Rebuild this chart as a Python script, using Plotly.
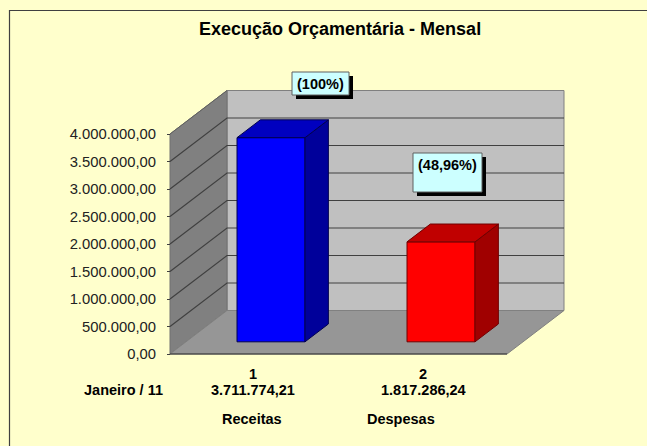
import plotly.graph_objects as go

categories = ["1", "2"]
series_names = ["Receitas", "Despesas"]
values = [3711774.21, 1817286.24]
percent_labels = ["(100%)", "(48,96%)"]
period_label = "Janeiro / 11"
title_text = "Execução Orçamentária - Mensal"
y_ticks = [0, 500000, 1000000, 1500000, 2000000, 2500000, 3000000, 3500000, 4000000]
face_colors = ["#0000FF", "#FF0000"]
top_colors = ["#0000C0", "#C00000"]
side_colors = ["#00009A", "#A00000"]
edge_colors = ["#000050", "#700000"]

W, H = 647, 446
X0, Y0 = 170, 354          # pixel of the axes origin
PX_X = 170                 # px per category
PX_Y = 55 / 1e6            # px per value unit
XEND = 337 / PX_X          # right end of the floor
DEPTH_X = 57 / PX_X        # oblique shift of the floor depth
DEPTH_Y = 43.5 / PX_Y
BAR_WIDTH = 68 / PX_X
BAR_SHIFT = 18 / PX_X
BAR_D0, BAR_D1 = 0.28, 0.69
YMAX = y_ticks[-1]
FONT = "Liberation Sans, Arial, sans-serif"
LABEL_SIZE = 14.5
TICK_SIZE = 14.8
TITLE_SIZE = 18


def px(x):
    return x / W


def py(y):
    return 1 - y / H


def pt(x, y, d=0.0):
    return x + d * DEPTH_X, y + d * DEPTH_Y


def poly(points):
    return "M" + " L".join(f"{a},{b}" for a, b in points) + " Z"


def ngon(*points, fill, line, width=1):
    return dict(type="path", xref="x", yref="y", path=poly(points), fillcolor=fill,
                line=dict(color=line, width=width), layer="below")


shapes = [
    # walls and floor
    ngon(pt(0, 0, 1), pt(XEND, 0, 1), pt(XEND, YMAX, 1), pt(0, YMAX, 1), fill="#C0C0C0", line="#808080"),
    ngon(pt(0, 0), pt(0, 0, 1), pt(0, YMAX, 1), pt(0, YMAX), fill="#808080", line="#707070"),
    ngon(pt(0, 0), pt(XEND, 0), pt(XEND, 0, 1), pt(0, 0, 1), fill="#969696", line="#808080"),
]
for tick in y_ticks[1:-1]:
    shapes.append(dict(type="path", xref="x", yref="y", layer="below",
                       path="M{},{} L{},{} L{},{}".format(*pt(0, tick), *pt(0, tick, 1), *pt(XEND, tick, 1)),
                       line=dict(color="#404040", width=1.2)))
shapes.append(dict(type="line", xref="x", yref="y", layer="below", x0=0, x1=XEND, y0=0, y1=0,
                   line=dict(color="#303030", width=1.2)))
shapes.append(dict(type="path", xref="x", yref="y", layer="below",
                   path="M{},{} L{},{}".format(*pt(0, YMAX), *pt(0, YMAX, 1)),
                   line=dict(color="#606060", width=1)))

# chart frame: dark top and left edges
shapes.append(dict(type="path", xref="paper", yref="paper", layer="below",
                   path=f"M{px(9.5)},{py(446)} L{px(9.5)},{py(10.5)} L{px(647)},{py(10.5)}",
                   line=dict(color="#404040", width=1.2)))

# call-out boxes with a hard shadow
boxes = [(292, 72, 349, 95), (413, 153, 482, 192)]
for x0, y0, x1, y1 in boxes:
    shapes.append(dict(type="rect", xref="paper", yref="paper", layer="above",
                       x0=px(x0 + 4), x1=px(x1 + 4), y0=py(y0 + 4), y1=py(y1 + 4),
                       fillcolor="#000000", line=dict(width=0)))
    shapes.append(dict(type="rect", xref="paper", yref="paper", layer="above",
                       x0=px(x0), x1=px(x1), y0=py(y0), y1=py(y1),
                       fillcolor="#CCFFFF", line=dict(color="#606060", width=1)))

fig = go.Figure()

bar_centres = [(253 - X0) / PX_X + i for i in range(len(values))]
bar_front_centres = [c + BAR_SHIFT for c in bar_centres]
bar_base = BAR_D0 * DEPTH_Y

for i, v in enumerate(values):
    xl = bar_front_centres[i] - BAR_WIDTH / 2
    xr = bar_front_centres[i] + BAR_WIDTH / 2
    dd = BAR_D1 - BAR_D0
    # side face
    side = [pt(xr, bar_base), pt(xr, bar_base, dd), pt(xr, bar_base + v, dd), pt(xr, bar_base + v)]
    # top face
    top = [pt(xl, bar_base + v), pt(xr, bar_base + v), pt(xr, bar_base + v, dd), pt(xl, bar_base + v, dd)]
    for pts, col in ((side, side_colors[i]), (top, top_colors[i])):
        fig.add_trace(go.Scatter(x=[p[0] for p in pts] + [pts[0][0]], y=[p[1] for p in pts] + [pts[0][1]],
                                 mode="lines", fill="toself", fillcolor=col,
                                 line=dict(color=edge_colors[i], width=1), hoverinfo="skip", showlegend=False))

fig.add_trace(go.Bar(x=bar_front_centres, y=values, base=[bar_base] * len(values), width=BAR_WIDTH,
                     marker=dict(color=face_colors, line=dict(color=edge_colors, width=1)),
                     name="Execução", showlegend=False))

annotations = [
    dict(text=f"<b>{title_text}</b>", xref="paper", yref="paper", x=px(339.5), y=py(29), showarrow=False,
         font=dict(size=TITLE_SIZE, family=FONT, color="#000000"), xanchor="center", yanchor="middle"),
    dict(text=f"<b>{percent_labels[0]}</b>", xref="paper", yref="paper", x=px(320.5), y=py(84), showarrow=False,
         font=dict(size=LABEL_SIZE, family=FONT, color="#000000"), xanchor="center", yanchor="middle"),
    dict(text=f"<b>{percent_labels[1]}</b>", xref="paper", yref="paper", x=px(447.5), y=py(165), showarrow=False,
         font=dict(size=LABEL_SIZE, family=FONT, color="#000000"), xanchor="center", yanchor="middle"),
    dict(text=f"<b>{period_label}</b>", xref="paper", yref="paper", x=px(124), y=py(390), showarrow=False,
         font=dict(size=LABEL_SIZE, family=FONT, color="#000000"), xanchor="center", yanchor="middle"),
]
for c, v in zip(bar_centres, values):
    annotations.append(dict(text="<b>" + f"{v:,.2f}".replace(",", "§").replace(".", ",").replace("§", ".") + "</b>",
                            xref="x", yref="paper", x=c, y=py(390), showarrow=False,
                            font=dict(size=LABEL_SIZE, family=FONT, color="#000000"), xanchor="center", yanchor="middle"))
for name, xpix in zip(series_names, (252, 401)):
    annotations.append(dict(text=f"<b>{name}</b>", xref="paper", yref="paper", x=px(xpix), y=py(419), showarrow=False,
                            font=dict(size=LABEL_SIZE, family=FONT, color="#000000"), xanchor="center", yanchor="middle"))

fig.update_layout(
    width=W, height=H, margin=dict(l=0, r=0, t=0, b=0), autosize=False,
    paper_bgcolor="#FFFFCC", plot_bgcolor="rgba(0,0,0,0)",
    separators=",.", shapes=shapes, annotations=annotations, showlegend=False,
    font=dict(family=FONT, color="#000000", size=12),
    xaxis=dict(range=[-X0 / PX_X, (W - X0) / PX_X], domain=[0, 1], showgrid=False, zeroline=False,
               showline=False, tickmode="array", tickvals=bar_centres, ticktext=[f"<b>{c}</b>" for c in categories],
               ticks="outside", ticklen=7, tickcolor="rgba(0,0,0,0)",
               anchor="free", position=py(Y0), tickfont=dict(size=LABEL_SIZE, family=FONT, color="#000000")),
    yaxis=dict(range=[(Y0 - H) / PX_Y, Y0 / PX_Y], domain=[0, 1], showgrid=False, zeroline=False,
               showline=False, tickmode="array", tickvals=y_ticks, tickformat=",.2f",
               ticks="outside", ticklen=3, tickcolor="#404040", ticklabelstandoff=8,
               anchor="free", position=px(X0), tickfont=dict(size=TICK_SIZE, family=FONT, color="#222222")),
)
fig.write_html("out.html", config=dict(displayModeBar=False),
               post_script="document.body.style.margin='0';document.documentElement.style.overflow='hidden';")
